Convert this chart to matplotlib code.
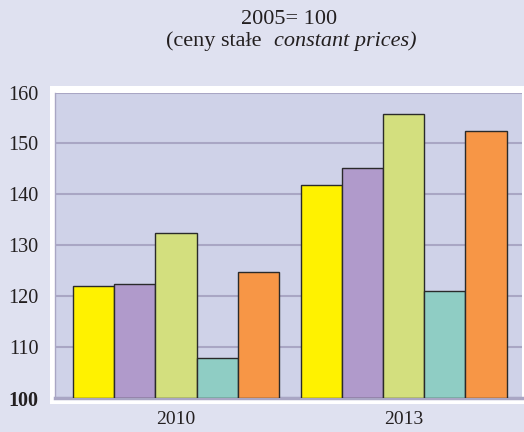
import matplotlib.pyplot as plt
from matplotlib.patches import Rectangle
import numpy as np

years = ["2010", "2013"]
yellow = [122.0, 141.8]
purple = [122.5, 145.2]
green = [132.5, 155.7]
teal = [108.0, 121.1]
orange = [124.7, 152.4]
series = [yellow, purple, green, teal, orange]
colors = ["#FFF200", "#B09ACB", "#D3DF7E", "#8FCDC4", "#F79646"]
yticks = [100, 110, 120, 130, 140, 150, 160]

plt.rcParams['font.family'] = 'Liberation Serif'

fig = plt.figure(figsize=(5.24, 4.32), dpi=100)
fig.patch.set_facecolor("#DFE1F0")

# white frame behind the plot area
fig.patches.append(Rectangle((50/524, 1 - 404/432), 1, (404 - 86)/432,
                             transform=fig.transFigure, facecolor="white",
                             edgecolor="none", zorder=-1))

ax = fig.add_axes([55/524, 1 - 398.3/432, (522 - 55)/524, (398.3 - 92.5)/432])
ax.set_zorder(1)
ax.set_facecolor("#CFD2E8")

x = np.arange(len(years))
w = 0.181
for i, vals in enumerate(series):
    ax.bar(x + (i - 2) * w, np.array(vals) - 100, bottom=100, width=w,
           color=colors[i], edgecolor="#2a2a2a", linewidth=1.0, zorder=3)

ax.set_ylim(100, 160)
ax.set_xlim(-0.531, 1.52)
ax.set_yticks(yticks)
ax.set_yticklabels([str(t) for t in yticks], fontsize=14.5, color="#231f20")
ax.get_yticklabels()[0].set_fontweight("bold")
ax.set_xticks(x)
ax.set_xticklabels(years, fontsize=14, color="#231f20")
ax.tick_params(axis="y", length=0, pad=12)
ax.tick_params(axis="x", length=0, pad=9.5)
ax.grid(axis="y", color="#A9A6C4", linewidth=1.5, zorder=0)
ax.set_axisbelow(True)
for s in ["top", "right"]:
    ax.spines[s].set_visible(False)
ax.spines["left"].set_color("#A9A6C4")
ax.spines["left"].set_linewidth(1.0)
ax.spines["bottom"].set_color("#A9A6C4")
ax.spines["bottom"].set_linewidth(2.5)

fig.text(289/524, 1 - 19/432, "2005= 100", ha="center", va="center",
         fontsize=16, color="#231f20")
fig.text(261/524, 1 - 41/432, "(ceny stałe", ha="right", va="center",
         fontsize=16, color="#231f20")
fig.text(274/524, 1 - 41/432, "constant prices)", ha="left", va="center",
         fontsize=16, style="italic", color="#231f20")

plt.savefig("out.png", dpi=100, facecolor=fig.get_facecolor())
